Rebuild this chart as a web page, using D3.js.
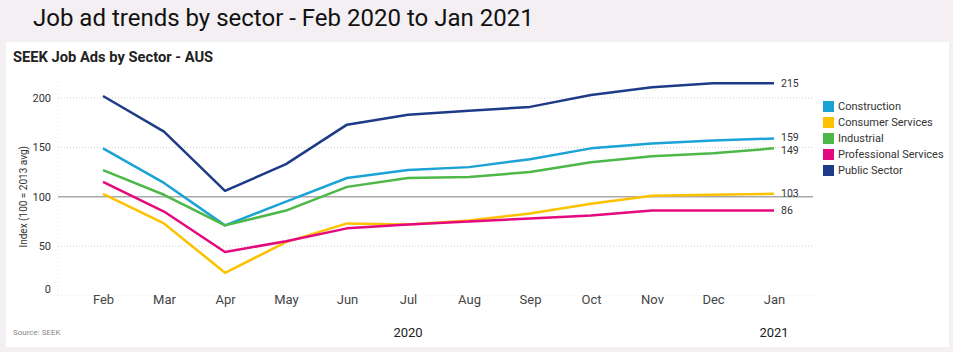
<!DOCTYPE html>
<html>
<head>
<meta charset="UTF-8" />
<title>Job ad trends by sector</title>
<script src="https://cdn.jsdelivr.net/npm/d3@7"></script>
<style>
  body { margin: 0; background: #f3eff3; }
  svg { display: block; font-family: Roboto, "Noto Sans", sans-serif; }
</style>
</head>
<body>
<svg id="vis" width="953" height="352"></svg>
<script>
// data (index, 100 = 2013 avg)
const months = ["Feb", "Mar", "Apr", "May", "Jun", "Jul", "Aug", "Sep", "Oct", "Nov", "Dec", "Jan"];
const sectors = ["Construction", "Consumer Services", "Industrial", "Professional Services", "Public Sector"];
const colors = ["#1ba3d6", "#fcc200", "#4cb847", "#e5097f", "#1d3b86"];

const construction = [149, 114, 71, 95, 119, 127, 130, 138, 149, 154, 157, 159];
const consumer = [103, 73, 23, 54, 73, 72, 76, 83, 93, 101, 102, 103];
const industrial = [127, 102, 71, 86, 110, 119, 120, 125, 135, 141, 144, 149];
const professional = [115, 85, 44, 55, 68, 72, 75, 78, 81, 86, 86, 86];
const publicSector = [202, 166, 106, 133, 173, 183, 187, 191, 203, 211, 215, 215];
const seriesValues = [construction, consumer, industrial, professional, publicSector];

const yTicks = [0, 50, 100, 150, 200];

const svg = d3.select("#vis");

// white card
svg.append("rect")
  .attr("x", 6).attr("y", 42)
  .attr("width", 943).attr("height", 305)
  .attr("fill", "#fff");

// page title
svg.append("text")
  .attr("x", 33).attr("y", 26)
  .attr("font-size", 24)
  .attr("fill", "#111")
  .text("Job ad trends by sector - Feb 2020 to Jan 2021");

// chart title
svg.append("text")
  .attr("x", 13).attr("y", 62)
  .attr("font-size", 14.7)
  .attr("font-weight", "bold")
  .attr("fill", "#222")
  .text("SEEK Job Ads by Sector - AUS");

let x = d3.scalePoint().domain(months).range([103, 774]);
let y = d3.scaleLinear().domain([0, 200]).range([295.5, 98]);

// grid
let gGrid = svg.append("g");
yTicks.forEach(function (t) {
  gGrid.append("line")
    .attr("x1", 58).attr("x2", 813)
    .attr("y1", y(t)).attr("y2", y(t))
    .attr("stroke", t == 100 ? "#a9a9a9" : (t == 0 ? "#eee" : "#cfcfcf"))
    .attr("stroke-width", t == 100 ? 1.3 : 1)
    .attr("stroke-dasharray", t == 100 ? null : "1,2");
});
gGrid.append("line")
  .attr("x1", 58).attr("x2", 58).attr("y1", 78).attr("y2", 296)
  .attr("stroke", "#e6dde6").attr("stroke-dasharray", "1,3");

// y axis labels
let yAxis = d3.axisLeft(y).tickValues(yTicks).tickSize(0).tickPadding(0);
let gy = svg.append("g").attr("transform", "translate(51,0)").call(yAxis);
gy.select(".domain").remove();
gy.selectAll("text").attr("font-size", 11).attr("fill", "#333").attr("font-family", "Roboto, sans-serif");
gy.selectAll(".tick").filter(d => d == 0).select("text").attr("dy", "-0.3em");

svg.append("text")
  .attr("transform", "translate(27," + y(100) + ") rotate(-90)")
  .attr("text-anchor", "middle")
  .attr("font-size", 10)
  .attr("fill", "#333")
  .text("Index (100 = 2013 avg)");

// x axis labels
let xAxis = d3.axisBottom(x).tickSize(0).tickPadding(0);
let gx = svg.append("g").attr("transform", "translate(0,295)").call(xAxis);
gx.select(".domain").remove();
gx.selectAll("text").attr("font-size", 13).attr("fill", "#444").attr("font-family", "Roboto, sans-serif");

svg.append("text").attr("x", x("Jul")).attr("y", 337)
  .attr("text-anchor", "middle").attr("font-size", 13).attr("fill", "#222").text("2020");
svg.append("text").attr("x", x("Jan")).attr("y", 337)
  .attr("text-anchor", "middle").attr("font-size", 13).attr("fill", "#222").text("2021");

svg.append("text").attr("x", 13).attr("y", 335)
  .attr("font-size", 8).attr("fill", "#888").text("Source: SEEK");

// lines
let line = d3.line()
  .x((d, i) => x(months[i]))
  .y(d => y(d));

let gLines = svg.append("g");
seriesValues.forEach(function (vals, k) {
  gLines.append("path")
    .attr("d", line(vals))
    .attr("fill", "none")
    .attr("stroke", colors[k])
    .attr("stroke-width", 2.5)
    .attr("stroke-linejoin", "round");

  // end labels; nudge the two close ones apart a little
  let nudge = k == 0 ? -1.5 : (k == 2 ? 1.5 : 0);
  gLines.append("text")
    .attr("x", x("Jan") + 7)
    .attr("y", y(vals[vals.length - 1]) + nudge)
    .attr("dy", "0.35em")
    .attr("font-size", 10.5)
    .attr("fill", "#333")
    .text(vals[vals.length - 1]);
});

// legend
let gLegend = svg.append("g").attr("transform", "translate(823,101)");
sectors.forEach(function (s, k) {
  gLegend.append("rect")
    .attr("x", 0).attr("y", k * 16)
    .attr("width", 11).attr("height", 11)
    .attr("fill", colors[k]);
  gLegend.append("text")
    .attr("x", 15).attr("y", k * 16 + 5.5)
    .attr("dy", "0.35em")
    .attr("font-size", 11)
    .attr("fill", "#333")
    .text(s);
});
</script>
</body>
</html>
